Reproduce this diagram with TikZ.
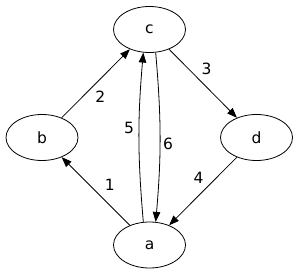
\documentclass[tikz,border=0pt]{standalone}
\usepackage{fontspec}
\setmainfont{DejaVu Sans}
\usetikzlibrary{shapes.geometric,arrows.meta}

\begin{document}
\begin{tikzpicture}[
    x=1pt, y=-1pt,
    vertex/.style={ellipse, draw=black, line width=0.8pt, fill=white,
                   minimum width=72pt, minimum height=46pt, inner sep=0pt,
                   font=\fontsize{15.5}{17}\selectfont},
    arr/.style={-{Triangle[length=10pt,width=7.5pt]}, line width=0.8pt, black},
    lbl/.style={font=\fontsize{15.5}{17}\selectfont, inner sep=0pt}
]
\useasboundingbox (0,0) rectangle (299,275);
\node[vertex] (c) at (149.5,29.5) {c};
\node[vertex] (b) at (42,137.5) {b};
\node[vertex] (d) at (256.5,137.5) {d};
\node[vertex] (a) at (149.5,245) {a};

\draw[arr] (a) -- (b) node[lbl, midway, xshift=14pt, yshift=6pt] {1};
\draw[arr] (b) -- (c) node[lbl, midway, xshift=4.5pt, yshift=-13pt] {2};
\draw[arr] (c) -- (d) node[lbl, midway, xshift=3.5pt, yshift=15pt] {3};
\draw[arr] (d) -- (a) node[lbl, midway, xshift=-4.5pt, yshift=13pt] {4};
\draw[arr] (a.105) to[bend left=5] node[lbl, midway, xshift=-10pt, yshift=9pt] {5} (c.255);
\draw[arr] (c.285) to[bend left=5] node[lbl, midway, xshift=8pt, yshift=-7pt] {6} (a.75);
\end{tikzpicture}
\end{document}
